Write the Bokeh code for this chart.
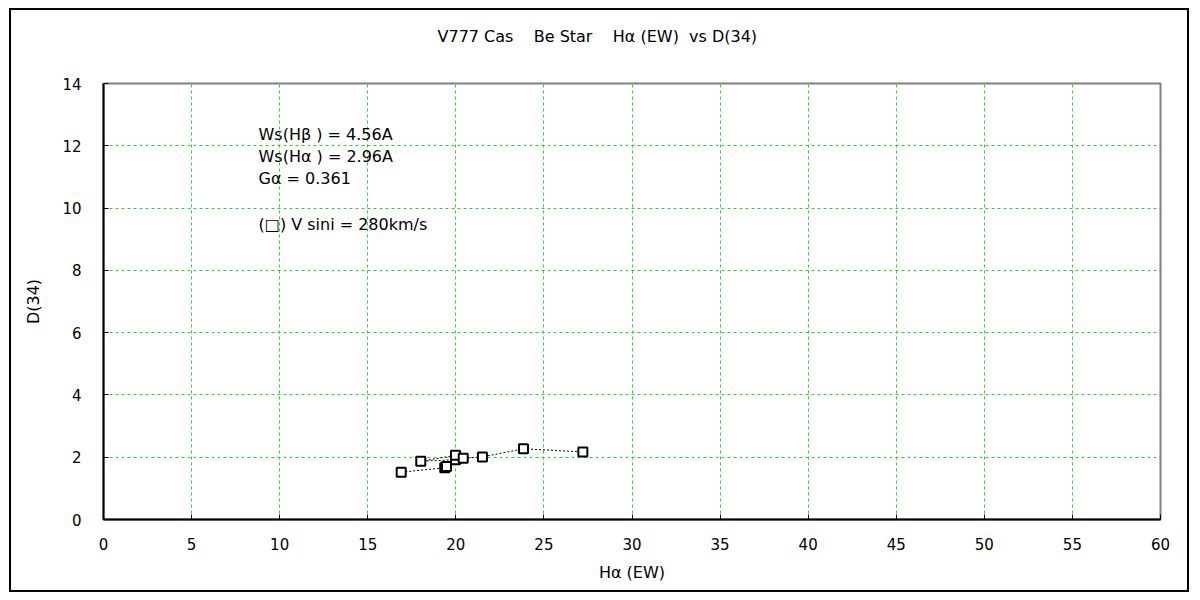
from bokeh.plotting import figure
from bokeh.models import ColumnDataSource, Label, Title, FixedTicker, Range1d
from bokeh.embed import file_html
from bokeh.resources import INLINE

ha_ew = [16.90, 19.37, 19.47, 19.98, 18.01, 19.98, 20.42, 21.51, 23.84, 27.21]
d34 = [1.52, 1.66, 1.70, 1.92, 1.87, 2.06, 1.97, 2.01, 2.27, 2.17]

x_ticks = [0, 5, 10, 15, 20, 25, 30, 35, 40, 45, 50, 55, 60]
y_ticks = [0, 2, 4, 6, 8, 10, 12, 14]

NB = "\u00a0"
title_text = "V777 Cas" + NB * 4 + "Be Star" + NB * 4 + "H\u03b1 (EW)" + NB * 2 + "vs D(34)"
x_label = "H\u03b1 (EW)"
y_label = "D(34)"
notes = ["Ws(H\u03b2 ) = 4.56A", "Ws(H\u03b1 ) = 2.96A", "G\u03b1 = 0.361", "(\u25a1) V sini = 280km/s"]
note_y = [12.36, 11.65, 10.95, 9.48]

FONT = "DejaVu Sans"
FS = "15px"
FS_TEXT = "16px"

# figure placed at page (9, 8); frame at page x 103..1160, y 83..519
W, H = 1180, 584
p = figure(width=W, height=H, output_backend="svg", toolbar_location=None,
           x_range=Range1d(0, 60), y_range=Range1d(0, 14),
           min_border_left=94, min_border_right=W - (1160 - 9), min_border_top=75,
           min_border_bottom=H - (519 - 8))
p.margin = (8, 0, 0, 9)
p.styles = {"box-shadow": "inset 0 0 0 2px black", "background-color": "white"}

p.title = Title(text=title_text + "\n" + NB, align="left", offset=334, text_font=FONT,
                text_font_size=FS_TEXT, text_font_style="normal", text_color="black",
                vertical_align="top", standoff=33)

p.outline_line_color = "#808080"
p.outline_line_width = 2
p.background_fill_color = "white"
p.border_fill_alpha = 0

for ax in (p.xaxis[0], p.yaxis[0]):
    ax.axis_line_color = "black"
    ax.axis_line_width = 2
    ax.major_tick_in = 5
    ax.major_tick_out = 0
    ax.major_tick_line_color = "black"
    ax.minor_tick_line_color = None
    ax.major_label_text_font = FONT
    ax.major_label_text_font_size = FS
    ax.major_label_text_color = "black"
    ax.axis_label_text_font = FONT
    ax.axis_label_text_font_size = FS_TEXT
    ax.axis_label_text_font_style = "normal"
    ax.axis_label_text_color = "black"

p.xaxis.ticker = FixedTicker(ticks=x_ticks)
p.yaxis.ticker = FixedTicker(ticks=y_ticks)
p.xaxis.axis_label = x_label
p.yaxis.axis_label = y_label
p.xaxis.major_label_standoff = 18
p.yaxis.major_label_standoff = 22
p.xaxis.axis_label_standoff = 10
p.yaxis.axis_label_standoff = 16

for g in (p.xgrid[0], p.ygrid[0]):
    g.grid_line_color = "#22dd22"
    g.grid_line_dash = "3 3"
    g.grid_line_width = 1

src = ColumnDataSource(dict(x=ha_ew, y=d34))
p.line("x", "y", source=src, line_color="black", line_width=1, line_dash="2 2")
p.scatter("x", "y", source=src, marker="square", size=9, fill_color="white",
          line_color="black", line_width=2)

for t, yy in zip(notes, note_y):
    p.add_layout(Label(x=8.8, y=yy, text=t, text_font=FONT, text_font_size=FS_TEXT,
                       text_baseline="middle", text_align="left", text_color="black"))

open("out.html", "w").write(file_html(p, INLINE))
